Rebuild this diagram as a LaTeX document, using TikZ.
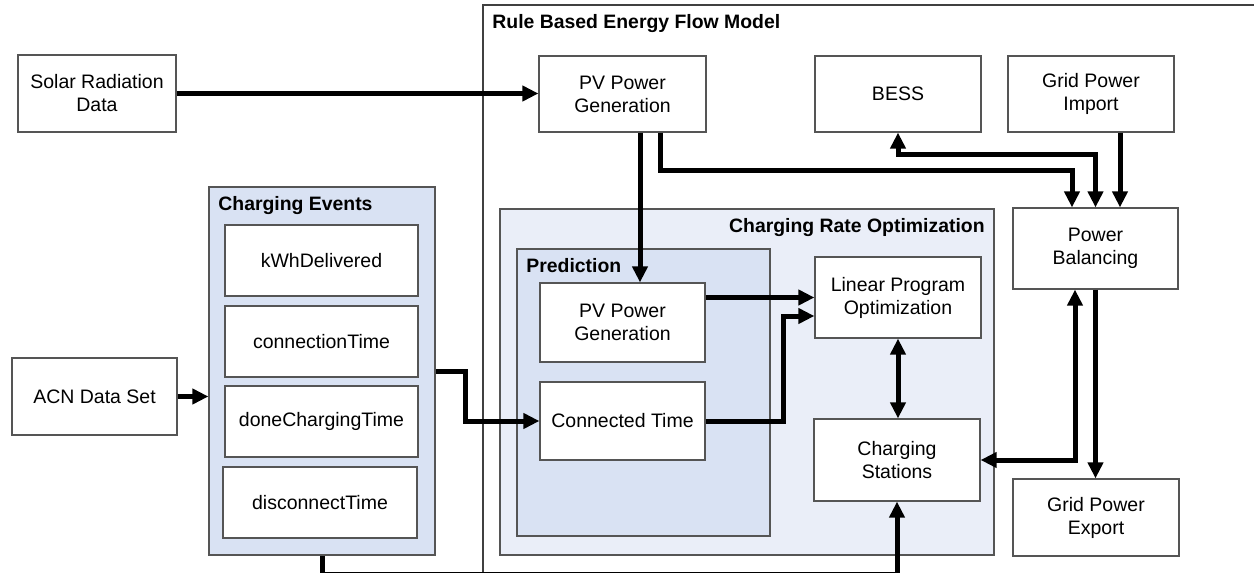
\documentclass[tikz,border=0pt]{standalone}
\usepackage{fontspec}
\setmainfont{Liberation Sans}
\usetikzlibrary{arrows.meta,calc}
\definecolor{lightfill}{HTML}{EAEEF8}
\definecolor{groupfill}{HTML}{D9E2F3}
\definecolor{edgegray}{HTML}{555555}

\begin{document}
\begin{tikzpicture}[x=0.5pt, y=-0.5pt,
	box/.style={draw=edgegray, fill=white, line width=0.6pt, align=center, inner sep=0pt, font=\fontsize{9.75}{11.5}\selectfont},
	group/.style={draw=edgegray, line width=0.6pt, inner sep=0pt},
	title/.style={inner sep=0pt, font=\bfseries\fontsize{9.7}{11.5}\selectfont},
	flow/.style={line width=2.5pt, -{Triangle[length=8pt,width=7.5pt]}},
	flowboth/.style={line width=2.5pt, {Triangle[length=8pt,width=7.5pt]}-{Triangle[length=8pt,width=7.5pt]}}]
	\useasboundingbox (0,0) rectangle (1254,573);
	\clip (0,0) rectangle (1254,573);
	% groups
	\draw[group, draw=black!75] (483,5) rectangle (1300,600);
	\node[title, anchor=base west] (T1) at (492,28) {Rule Based Energy Flow Model};
	\node[group, fill=lightfill, minimum width=247pt, minimum height=173pt] (Opt) at (747,382) {};
	\node[title, anchor=base east] (T2) at (985,232) {Charging Rate Optimization};
	\node[group, fill=groupfill, minimum width=126.5pt, minimum height=143.5pt] (Pred) at (643.5,392.5) {};
	\node[title, anchor=base west] (T3) at (526,272) {Prediction};
	\node[group, fill=groupfill, minimum width=113pt, minimum height=184pt] (Events) at (322,371) {};
	\node[title, anchor=base west] (T4) at (218,210) {Charging Events};
	% blocks
	\node[box, minimum width=79pt, minimum height=38.5pt] (Solar) at (97,93.5) {Solar Radiation\\Data};
	\node[box, minimum width=82.5pt, minimum height=38.5pt] (ACN) at (94.5,396.5) {ACN Data Set};
	\node[box, minimum width=83.5pt, minimum height=38pt] (PV) at (622.5,94) {PV Power\\Generation};
	\node[box, minimum width=83pt, minimum height=38pt] (BESS) at (898,94) {BESS};
	\node[box, minimum width=83pt, minimum height=38pt] (Import) at (1091,94) {Grid Power\\Import};
	\node[box, minimum width=82.5pt, minimum height=40.5pt] (Balance) at (1095.5,248.5) {Power\\Balancing};
	\node[box, minimum width=83pt, minimum height=38.5pt] (Export) at (1096,517.5) {Grid Power\\Export};
	\node[box, minimum width=82.5pt, minimum height=39.5pt] (PVp) at (622.5,322.5) {PV Power\\Generation};
	\node[box, minimum width=82.5pt, minimum height=39pt] (Conn) at (622.5,421) {Connected Time};
	\node[box, minimum width=83pt, minimum height=40.5pt] (LP) at (898,297.5) {Linear Program\\Optimization};
	\node[box, minimum width=83pt, minimum height=41pt] (CS) at (897,460) {Charging\\Stations};
	\node[box, minimum width=96.5pt, minimum height=35.5pt] (kWh) at (321.5,260.5) {kWhDelivered};
	\node[box, minimum width=96.5pt, minimum height=35.5pt] (CTime) at (321.5,341.5) {connectionTime};
	\node[box, minimum width=96.5pt, minimum height=35.5pt] (DTime) at (321.5,421.5) {doneChargingTime};
	\node[box, minimum width=97pt, minimum height=35.5pt] (Disc) at (320,502.5) {disconnectTime};
	% connectors
	\draw[flow] (Solar.east) -- (Solar.east -| PV.west);
	\draw[flow] ($(PV.south)+(17.5,0)$) -- ($(PVp.north)+(17.5,0)$);
	\draw[flow] ($(PV.south)+(37.5,0)$) -- ++(0,38) -| ($(Balance.north)+(-23.5,0)$);
	\draw[flowboth] (BESS.south) -- ++(0,22) -| (Balance.north);
	\draw[flow] ($(Import.south)+(29,0)$) -- ($(Balance.north)+(24.5,0)$);
	\draw[flow] (LP.west -| PVp.east) -- (LP.west);
	\draw[flow] (Conn.east) -- ++(78,0) |- ($(LP.west)+(0,18.5)$);
	\draw[flowboth] (LP.south) -- (LP.south |- CS.north);
	\draw[flowboth] ($(Balance.south)+(-20.5,0)$) |- (CS.east);
	\draw[flow] (Balance.south) -- (Balance.south |- Export.north);
	\draw[flow] (ACN.east) -- (ACN.east -| Events.west);
	\draw[flow] (Events.east) -- ++(30,0) |- (Conn.west);
	\draw[flow] (Events.south) -- ++(0,19.3) -| (CS.south);
\end{tikzpicture}
\end{document}
